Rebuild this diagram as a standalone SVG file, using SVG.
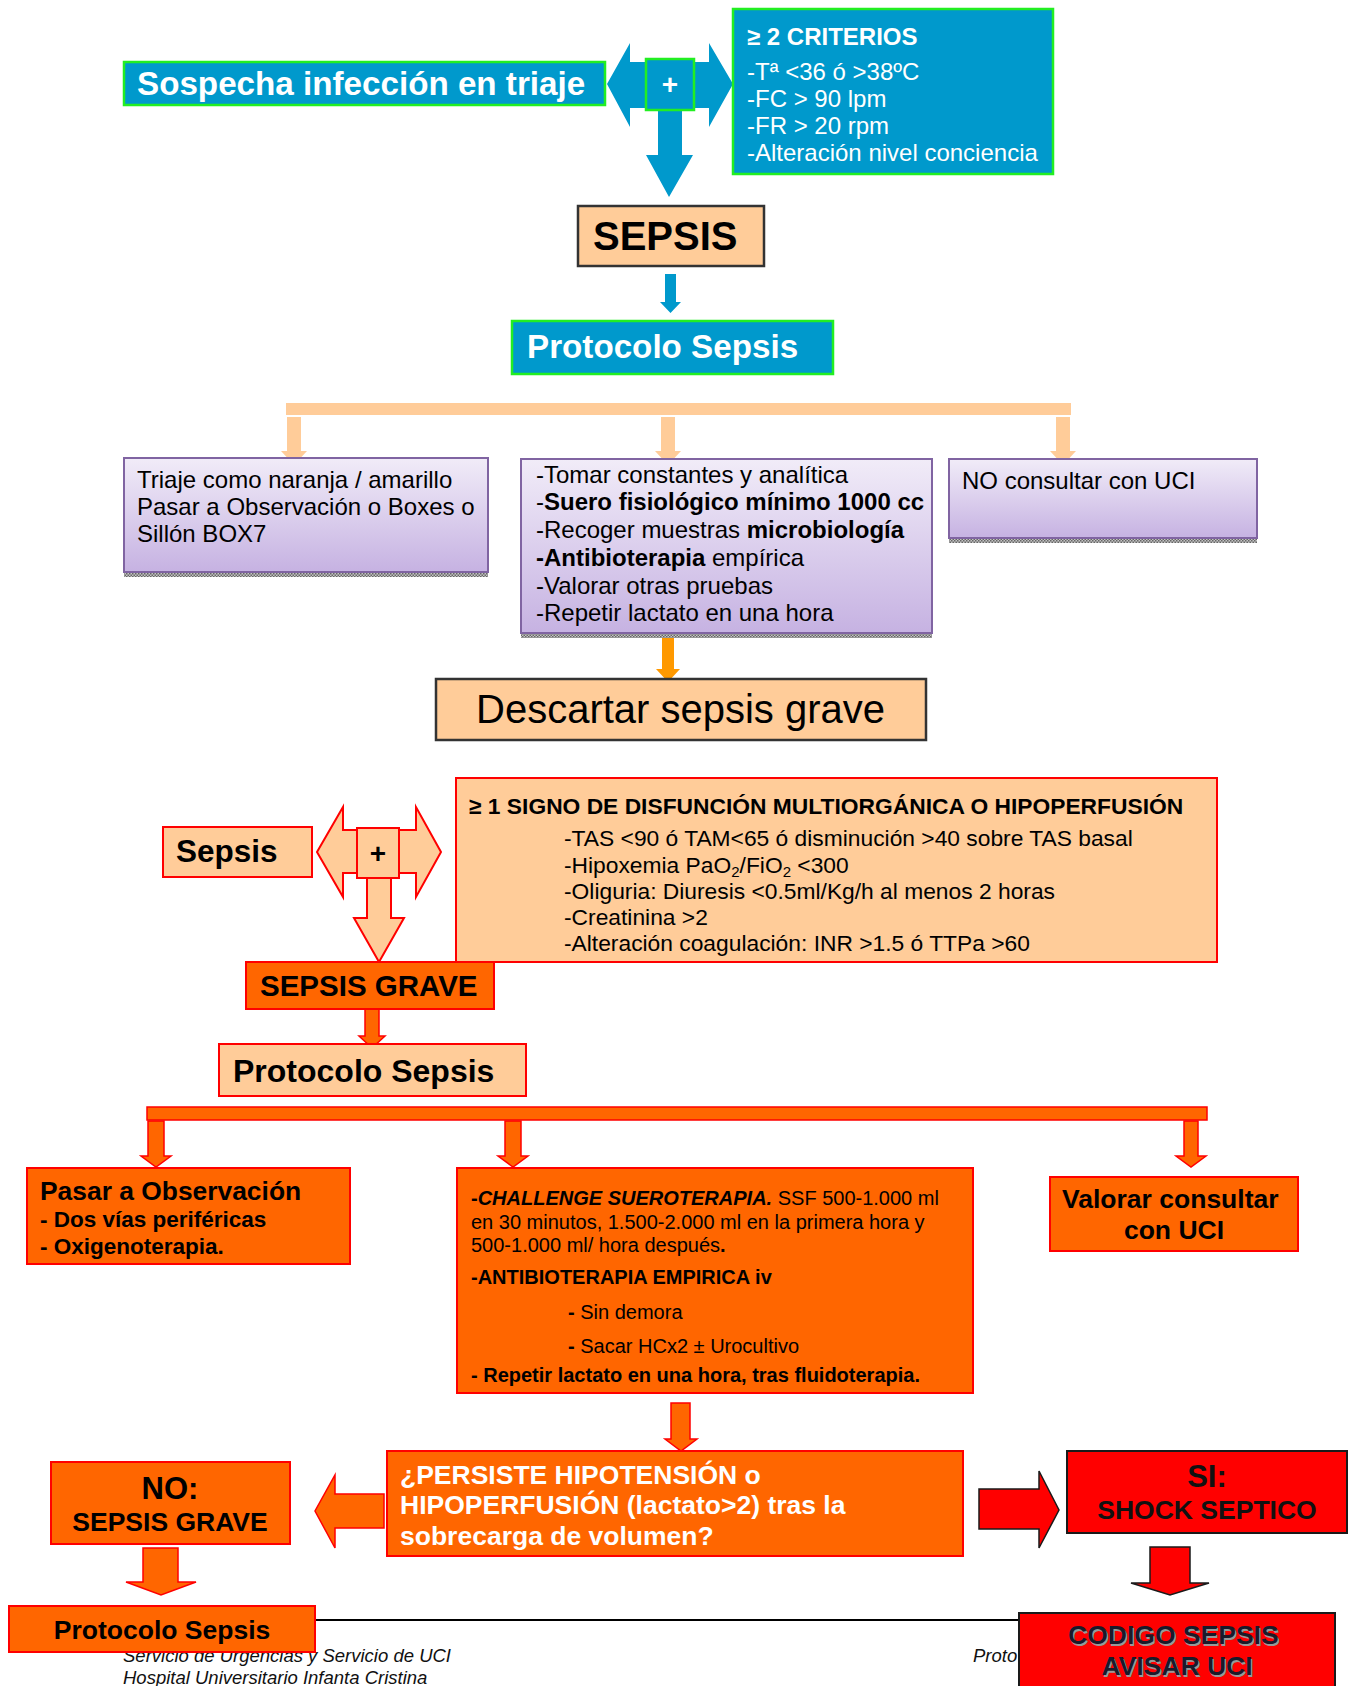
<svg xmlns="http://www.w3.org/2000/svg" width="1349" height="1686" viewBox="0 0 1349 1686">
<defs>
<linearGradient id="pg" x1="0" y1="0" x2="0" y2="1">
<stop offset="0" stop-color="#F1ECF8"/>
<stop offset="1" stop-color="#C6B2E2"/>
</linearGradient>
<pattern id="sh" width="3" height="3" patternUnits="userSpaceOnUse">
<rect width="3" height="3" fill="#c4c4c4"/>
<rect width="1.5" height="1.5" fill="#666"/>
<rect x="1.5" y="1.5" width="1.5" height="1.5" fill="#666"/>
</pattern>
</defs>
<style>
text{font-family:"Liberation Sans",Arial,sans-serif;}
.blue{fill:#0099CC;stroke:#22EE22;stroke-width:2.5;}
.peachd{fill:#FFCC99;stroke:#333;stroke-width:2.5;}
.peachr{fill:#FFCC99;stroke:#FF0000;stroke-width:2;}
.orange{fill:#FF6600;stroke:#FF0000;stroke-width:2;}
.red{fill:#FF0000;stroke:#1a1a1a;stroke-width:2;}
.purple{fill:url(#pg);stroke:#8064A2;stroke-width:2;}
.shadow{fill:url(#sh);}
.w{fill:#fff;font-weight:bold;}
.b{font-weight:bold;}
.k{fill:#000;}
.arrBlue{fill:#0099CC;}
.arrPeach{fill:#FFCC99;}
.arrPeachR{fill:#FFCC99;stroke:#FF0000;stroke-width:2;stroke-linejoin:miter;}
.arrOrange{fill:#FF6600;stroke:#FF0000;stroke-width:1.5;}
.arrRed{fill:#FF0000;stroke:#1a1a1a;stroke-width:1.5;}
.foot{font-style:italic;font-size:18.5px;fill:#111;}
</style>

<g id="footer">
<line x1="124" y1="1620" x2="1240" y2="1620" stroke="#000" stroke-width="2"/>
<text class="foot" x="123" y="1662">Servicio de Urgencias y Servicio de UCI</text>
<text class="foot" x="123" y="1684">Hospital Universitario Infanta Cristina</text>
<text class="foot" x="973" y="1662">Proto</text>
</g>

<g id="connectors">
<path class="arrBlue" d="M607,84 L630,43 L630,62 L709,62 L709,43 L733,84 L709,127 L709,108 L630,108 L630,127 Z"/>
<path class="arrBlue" d="M658,108 L682,108 L682,155 L693,155 L669,197 L646,155 L658,155 Z"/>
<path class="arrBlue" d="M665,274 L676,274 L676,302 L681,302 L670.5,313 L660,302 L665,302 Z"/>
<rect class="arrPeach" x="286" y="403" width="785" height="12"/>
<path class="arrPeach" d="M287,417 L301,417 L301,451 L307,451 L294,465 L281,451 L287,451 Z"/>
<path class="arrPeach" d="M661,417 L675,417 L675,451 L681,451 L668,465 L655,451 L661,451 Z"/>
<path class="arrPeach" d="M1056,417 L1070,417 L1070,451 L1076,451 L1063,465 L1050,451 L1056,451 Z"/>
<path fill="#FF9900" d="M662,636 L674,636 L674,669 L680,669 L668,682 L656,669 L662,669 Z"/>
<path class="arrPeachR" d="M317,852 L343,807 L343,830 L416,830 L416,807 L441,852 L416,897 L416,873 L343,873 L343,897 Z"/>
<path class="arrPeachR" d="M367,878 L391,878 L391,918 L404,918 L379,962 L354,918 L367,918 Z"/>
<path class="arrOrange" d="M365,1009 L379,1009 L379,1036 L385,1036 L372,1048 L359,1036 L365,1036 Z"/>
<rect class="arrOrange" x="147" y="1107" width="1060" height="13"/>
<path class="arrOrange" d="M148,1121 L164,1121 L164,1156 L171,1156 L156,1167 L141,1156 L148,1156 Z"/>
<path class="arrOrange" d="M505,1121 L521,1121 L521,1156 L528,1156 L513,1167 L498,1156 L505,1156 Z"/>
<path class="arrOrange" d="M1184,1121 L1198,1121 L1198,1156 L1206,1156 L1191,1167 L1176,1156 L1184,1156 Z"/>
<path class="arrOrange" d="M671,1403 L690,1403 L690,1439 L697,1439 L681,1451 L665,1439 L671,1439 Z"/>
<path class="arrOrange" d="M384,1494 L384,1528 L335,1528 L335,1548 L315,1511 L335,1475 L335,1494 Z"/>
<path class="arrRed" d="M979,1489 L1039,1489 L1039,1471 L1059,1510 L1039,1548 L1039,1529 L979,1529 Z"/>
<path class="arrOrange" d="M143,1548 L178,1548 L178,1582 L196,1582 L161,1595 L126,1582 L143,1582 Z"/>
<path class="arrRed" d="M1150,1547 L1190,1547 L1190,1583 L1209,1583 L1170,1595 L1131,1583 L1150,1583 Z"/>
</g>

<g id="sospecha">
<rect class="blue" x="124" y="62" width="481" height="43"/>
<text class="w" x="137" y="95" font-size="33.2">Sospecha infección en triaje</text>
</g>

<g id="plus1">
<rect class="blue" x="646" y="59" width="48" height="51"/>
<text class="w" x="670" y="94" font-size="28" text-anchor="middle">+</text>
</g>

<g id="criterios">
<rect class="blue" x="733" y="9" width="320" height="165"/>
<text class="w" x="747" y="45" font-size="24">≥ 2 CRITERIOS</text>
<text fill="#fff" font-size="24">
<tspan x="747" y="80">-Tª &lt;36 ó &gt;38ºC</tspan>
<tspan x="747" y="107">-FC &gt; 90 lpm</tspan>
<tspan x="747" y="134">-FR &gt; 20 rpm</tspan>
<tspan x="747" y="161">-Alteración nivel conciencia</tspan>
</text>
</g>

<g id="sepsis">
<rect class="peachd" x="578" y="206" width="186" height="60"/>
<text class="b k" x="593" y="250" font-size="40">SEPSIS</text>
</g>

<g id="protocolo1">
<rect class="blue" x="512" y="321" width="321" height="53"/>
<text class="w" x="527" y="358" font-size="33.2">Protocolo Sepsis</text>
</g>

<g id="triaje">
<rect class="shadow" x="124" y="573" width="364" height="4"/>
<rect class="purple" x="124" y="458" width="364" height="114"/>
<text class="k" font-size="24">
<tspan x="137" y="488">Triaje como naranja / amarillo</tspan>
<tspan x="137" y="515">Pasar a Observación o Boxes o</tspan>
<tspan x="137" y="542">Sillón BOX7</tspan>
</text>
</g>

<g id="tomar">
<rect class="shadow" x="521" y="634" width="411" height="4"/>
<rect class="purple" x="521" y="459" width="411" height="174"/>
<text class="k" font-size="24">
<tspan x="536" y="483">-Tomar constantes y analítica</tspan>
<tspan x="536" y="510">-<tspan font-weight="bold">Suero fisiológico mínimo 1000 cc</tspan></tspan>
<tspan x="536" y="538">-Recoger muestras <tspan font-weight="bold">microbiología</tspan></tspan>
<tspan x="536" y="566"><tspan font-weight="bold">-Antibioterapia</tspan> empírica</tspan>
<tspan x="536" y="594">-Valorar otras pruebas</tspan>
<tspan x="536" y="621">-Repetir lactato en una hora</tspan>
</text>
</g>

<g id="noConsultar">
<rect class="shadow" x="949" y="539" width="308" height="4"/>
<rect class="purple" x="949" y="459" width="308" height="79"/>
<text class="k" x="962" y="489" font-size="24">NO consultar con UCI</text>
</g>

<g id="descartar">
<rect class="peachd" x="436" y="679" width="490" height="61" stroke-width="3"/>
<text class="k" x="476" y="723" font-size="40">Descartar sepsis grave</text>
</g>

<g id="signo">
<rect class="peachr" x="456" y="778" width="761" height="184"/>
<text class="b k" x="469" y="814" font-size="22.8">≥ 1 SIGNO DE DISFUNCIÓN MULTIORGÁNICA O HIPOPERFUSIÓN</text>
<text class="k" font-size="22.8">
<tspan x="564" y="846">-TAS &lt;90 ó TAM&lt;65 ó disminución &gt;40 sobre TAS basal</tspan>
<tspan x="564" y="873">-Hipoxemia PaO<tspan font-size="15" dy="4">2</tspan><tspan dy="-4">/FiO</tspan><tspan font-size="15" dy="4">2</tspan><tspan dy="-4"> &lt;300</tspan></tspan>
<tspan x="564" y="899">-Oliguria: Diuresis &lt;0.5ml/Kg/h al menos 2 horas</tspan>
<tspan x="564" y="925">-Creatinina &gt;2</tspan>
<tspan x="564" y="951">-Alteración coagulación: INR &gt;1.5 ó TTPa &gt;60</tspan>
</text>
</g>

<g id="sepsisSmall">
<rect class="peachr" x="163" y="827" width="149" height="50"/>
<text class="b k" x="176" y="862" font-size="31.5">Sepsis</text>
</g>

<g id="plus2">
<rect class="peachr" x="357" y="828" width="42" height="50"/>
<text class="b k" x="378" y="863" font-size="28" text-anchor="middle">+</text>
</g>

<g id="sepsisGrave">
<rect class="orange" x="246" y="962" width="248" height="47"/>
<text class="b k" x="260" y="996" font-size="29.5">SEPSIS GRAVE</text>
</g>

<g id="protocolo2">
<rect class="peachr" x="219" y="1044" width="307" height="52"/>
<text class="b k" x="233" y="1082" font-size="32">Protocolo Sepsis</text>
</g>

<g id="pasarObs">
<rect class="orange" x="27" y="1168" width="323" height="96"/>
<text class="b k" x="40" y="1200" font-size="26.4">Pasar a Observación</text>
<text class="b k" font-size="22.5">
<tspan x="40" y="1227">- Dos vías periféricas</tspan>
<tspan x="40" y="1254">- Oxigenoterapia.</tspan>
</text>
</g>

<g id="challenge">
<rect class="orange" x="457" y="1168" width="516" height="225"/>
<text class="k" font-size="20">
<tspan x="471" y="1205"><tspan font-weight="bold">-</tspan><tspan font-weight="bold" font-style="italic">CHALLENGE SUEROTERAPIA.</tspan> SSF 500-1.000 ml</tspan>
<tspan x="471" y="1229">en 30 minutos, 1.500-2.000 ml en la primera hora y</tspan>
<tspan x="471" y="1252">500-1.000 ml/ hora después<tspan font-weight="bold">.</tspan></tspan>
<tspan x="471" y="1284" font-weight="bold">-ANTIBIOTERAPIA EMPIRICA iv</tspan>
<tspan x="568" y="1319"><tspan font-weight="bold">-</tspan> Sin demora</tspan>
<tspan x="568" y="1353"><tspan font-weight="bold">-</tspan> Sacar HCx2 ± Urocultivo</tspan>
<tspan x="471" y="1382" font-weight="bold">- Repetir lactato en una hora, tras fluidoterapia.</tspan>
</text>
</g>

<g id="valorar">
<rect class="orange" x="1050" y="1177" width="248" height="74"/>
<text class="b k" font-size="26.5" text-anchor="middle">
<tspan x="1174" y="1208">Valorar consultar</tspan>
<tspan x="1174" y="1239">con UCI</tspan>
</text>
</g>

<g id="persiste">
<rect class="orange" x="387" y="1451" width="576" height="105"/>
<text class="w" font-size="26.5">
<tspan x="400" y="1484">¿PERSISTE HIPOTENSIÓN o</tspan>
<tspan x="400" y="1514">HIPOPERFUSIÓN (lactato&gt;2) tras la</tspan>
<tspan x="400" y="1545">sobrecarga de volumen?</tspan>
</text>
</g>

<g id="noSepsisGrave">
<rect class="orange" x="51" y="1462" width="239" height="82"/>
<text class="b k" x="170" y="1499" font-size="31" text-anchor="middle">NO:</text>
<text class="b k" x="170" y="1531" font-size="26.5" text-anchor="middle">SEPSIS GRAVE</text>
</g>

<g id="shock">
<rect class="red" x="1067" y="1451" width="280" height="82"/>
<text class="b" fill="#111" x="1207" y="1487" font-size="31" text-anchor="middle">SI:</text>
<text class="b" fill="#111" x="1207" y="1519" font-size="26.5" text-anchor="middle">SHOCK SEPTICO</text>
</g>

<g id="protocolo3">
<rect class="orange" x="9" y="1606" width="306" height="46"/>
<text class="b k" x="162" y="1639" font-size="26.5" text-anchor="middle">Protocolo Sepsis</text>
</g>

<g id="codigo">
<rect class="red" x="1019" y="1613" width="316" height="80"/>
<text class="b" fill="#999" font-size="26.5" text-anchor="middle">
<tspan x="1178.5" y="1645.5">CODIGO SEPSIS</tspan>
<tspan x="1178.5" y="1676.5">AVISAR UCI</tspan>
</text>
<text class="b" fill="#1a1a2a" font-size="26.5" text-anchor="middle">
<tspan x="1177" y="1644">CODIGO SEPSIS</tspan>
<tspan x="1177" y="1675">AVISAR UCI</tspan>
</text>
</g>
</svg>
